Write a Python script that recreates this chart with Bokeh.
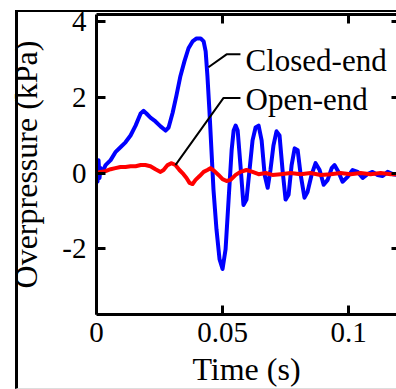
from bokeh.plotting import figure
from bokeh.models import LinearAxis, FixedTicker, ColumnDataSource, InlineStyleSheet
from bokeh.core.properties import value
from bokeh.embed import file_html
from bokeh.resources import INLINE

# ---- data (time in s, overpressure in kPa) ----
closed_t = [0.0000, 0.0004, 0.0008, 0.0012, 0.0016, 0.0024, 0.0036, 0.0056, 0.0075, 0.0095,
            0.0115, 0.0135, 0.0155, 0.0175, 0.0187, 0.0198, 0.0214, 0.0234, 0.0254, 0.0274,
            0.0286, 0.0302, 0.0317, 0.0333, 0.0349, 0.0365, 0.0381, 0.0397, 0.0413, 0.0425,
            0.0433, 0.0440, 0.0448, 0.0456, 0.0464, 0.0476, 0.0488, 0.0500, 0.0512, 0.0524,
            0.0536, 0.0544, 0.0552, 0.0560, 0.0571, 0.0583, 0.0595, 0.0607, 0.0619, 0.0631,
            0.0643, 0.0655, 0.0667, 0.0679, 0.0690, 0.0702, 0.0714, 0.0726, 0.0738, 0.0750,
            0.0762, 0.0774, 0.0786, 0.0798, 0.0810, 0.0825, 0.0837, 0.0853, 0.0869, 0.0885,
            0.0901, 0.0917, 0.0933, 0.0944, 0.0960, 0.0976, 0.0996, 0.1016, 0.1036, 0.1056,
            0.1075, 0.1095, 0.1115, 0.1135, 0.1155, 0.1175, 0.1190]
closed_p = [0.21, -0.23, 0.34, -0.13, 0.13, 0.03, 0.21, 0.34, 0.55, 0.68,
            0.81, 0.99, 1.25, 1.57, 1.64, 1.57, 1.46, 1.36, 1.23, 1.12,
            1.20, 1.59, 2.04, 2.56, 2.95, 3.29, 3.47, 3.55, 3.55, 3.47,
            3.21, 2.56, 1.64, 0.60, -0.44, -1.49, -2.27, -2.53, -2.01, -0.70,
            0.60, 1.12, 1.25, 1.12, 0.21, -0.84, -0.70, 0.08, 0.86, 1.20,
            1.25, 0.86, -0.05, -0.39, 0.08, 0.73, 1.10, 0.99, 0.08, -0.70,
            -0.57, 0.21, 0.65, 0.60, -0.05, -0.65, -0.50, -0.05, 0.26, 0.08,
            -0.31, -0.18, 0.13, 0.21, 0.03, -0.23, -0.10, 0.08, 0.03, -0.13,
            -0.03, 0.03, -0.05, -0.08, 0.03, -0.03, -0.05]

open_t = [0.0000, 0.0016, 0.0036, 0.0056, 0.0075, 0.0095, 0.0115, 0.0135, 0.0155, 0.0175,
          0.0194, 0.0214, 0.0234, 0.0254, 0.0266, 0.0282, 0.0298, 0.0313, 0.0329, 0.0345,
          0.0357, 0.0369, 0.0381, 0.0393, 0.0409, 0.0425, 0.0440, 0.0452, 0.0468, 0.0484,
          0.0500, 0.0516, 0.0532, 0.0552, 0.0571, 0.0595, 0.0619, 0.0643, 0.0671, 0.0698,
          0.0730, 0.0770, 0.0810, 0.0849, 0.0889, 0.0929, 0.0968, 0.1008, 0.1048, 0.1087,
          0.1127, 0.1167, 0.1190]
open_p = [0.00, 0.03, 0.05, 0.10, 0.13, 0.16, 0.16, 0.18, 0.18, 0.21,
          0.21, 0.18, 0.10, 0.03, 0.08, 0.21, 0.26, 0.21, 0.08, -0.03,
          -0.13, -0.26, -0.29, -0.18, -0.08, 0.03, 0.08, 0.13, 0.05, -0.05,
          -0.16, -0.21, -0.18, -0.05, 0.03, 0.08, 0.03, -0.03, 0.00, -0.05,
          -0.03, 0.00, -0.03, 0.00, -0.05, -0.03, 0.00, -0.03, 0.00, -0.03,
          0.00, -0.03, -0.03]

series_names = ["Closed-end", "Open-end"]
# leader lines (data coords) and label anchors
leader_t = [[0.0444, 0.0516, 0.0571], [0.0313, 0.0504, 0.0571]]
leader_p = [[2.79, 3.13, 3.13], [0.21, 1.98, 1.98]]
label_t = [0.0591, 0.0591]
label_p = [2.97, 1.94]

x_ticks = [0, 0.05, 0.1]
x_tick_labels = ["0", "0.05", "0.1"]
y_ticks = [-2, 0, 2, 4]
y_tick_labels = ["-2", "0", "2", "4"]

FONT = "Liberation Serif"

p = figure(width=396, height=389, x_range=(0, 0.119), y_range=(-3.73, 4.18),
           output_backend="svg", toolbar_location=None)
p.outline_line_color = None
p.grid.visible = False
p.min_border_left = 96
p.min_border_right = 0
p.min_border_top = 14
p.min_border_bottom = 73

# outer panel border of the cropped figure, drawn over the canvas
p.stylesheets = [InlineStyleSheet(css="""
:host { position: relative; }
:host::after {
  content: "";
  position: absolute;
  left: 15px; top: 10px; right: 0px; bottom: 0px;
  border-left: 3px solid black;
  border-top: 2px solid black;
  border-bottom: 1px solid #dddddd;
  pointer-events: none;
  z-index: 100;
}
""")]

p.line(closed_t, closed_p, line_color="#0000ff", line_width=4, line_join="round")
p.line(open_t, open_p, line_color="#ff0000", line_width=4, line_join="round")
p.multi_line(leader_t, leader_p, line_color="black", line_width=2)
src = ColumnDataSource(dict(x=label_t, y=label_p, t=series_names))
p.text("x", "y", text="t", source=src, text_font=value(FONT), text_font_size="31px",
       text_baseline="middle", text_align="left", text_color="black")

def style_axis(ax, ticks, labels, show_labels=True, show_line=True):
    ax.ticker = FixedTicker(ticks=ticks)
    ax.major_label_overrides = {t: l for t, l in zip(ticks, labels)}
    ax.major_tick_in = 9
    ax.major_tick_out = 0
    ax.minor_tick_line_color = None
    ax.major_tick_line_width = 3
    ax.major_tick_line_color = "black"
    ax.axis_line_width = 3
    ax.axis_line_color = "black" if show_line else None
    if show_labels:
        ax.major_label_text_font = FONT
        ax.major_label_text_font_size = "29px"
        ax.major_label_text_color = "black"
    else:
        ax.major_label_text_font_size = "0px"
        ax.major_label_text_color = None
        ax.major_label_standoff = 0

xa = p.xaxis[0]
style_axis(xa, x_ticks, x_tick_labels)
xa.major_label_standoff = 8
xa.axis_label = "Time (s)"
xa.axis_label_standoff = 6
ya = p.yaxis[0]
style_axis(ya, y_ticks, y_tick_labels)
ya.major_label_standoff = 10
ya.axis_label = "Overpressure (kPa)"
ya.axis_label_standoff = 15
for ax in (xa, ya):
    ax.axis_label_text_font = FONT
    ax.axis_label_text_font_size = "32px"
    ax.axis_label_text_font_style = "normal"
    ax.axis_label_text_color = "black"

top = LinearAxis()
style_axis(top, x_ticks[1:], x_tick_labels[1:], show_labels=False)
p.add_layout(top, "above")
right = LinearAxis()
style_axis(right, y_ticks, y_tick_labels, show_labels=False, show_line=False)
right.major_tick_in = 5
p.add_layout(right, "right")

open("out.html", "w").write(file_html(p, INLINE))
